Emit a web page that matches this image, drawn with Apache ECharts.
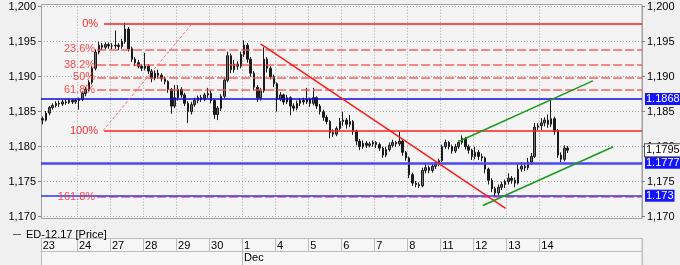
<!DOCTYPE html>
<html>
<head>
<meta charset="utf-8">
<script src="https://cdn.jsdelivr.net/npm/echarts@6/dist/echarts.min.js"></script>
<style>
html,body{margin:0;padding:0;background:#f0f0f0;}
#chart{width:680px;height:265px;}
</style>
</head>
<body>
<div id="chart"></div>
<script>
// ---------- DATA ----------
const seriesName = 'ED-12.17 [Price]';
const dayLabels = ['23','24','27','28','29','30','1','4','5','6','7','8','11','12','13','14'];
const monthLabel = { day: '1', text: 'Dec' };
const padSlots = 22; // empty future slots to the right of the last candle

// candles per day: [open, close, low, high]
const d23 = [[1.1840,1.1838,1.1832,1.1843],[1.1838,1.1848,1.1836,1.1851],[1.1848,1.1856,1.1845,1.1858],[1.1856,1.1859,1.1853,1.1862],[1.1859,1.1862,1.1856,1.1865],[1.1862,1.1861,1.1857,1.1866],[1.1861,1.1864,1.1858,1.1867],[1.1864,1.1863,1.1860,1.1868],[1.1863,1.1866,1.1861,1.1869],[1.1866,1.1864,1.1861,1.1868],[1.1864,1.1866,1.1861,1.1869]];
const d24 = [[1.1866,1.1868,1.1853,1.1870],[1.1868,1.1876,1.1865,1.1879],[1.1876,1.1882,1.1872,1.1885],[1.1882,1.1892,1.1879,1.1895],[1.1892,1.1912,1.1889,1.1915],[1.1912,1.1935,1.1909,1.1939],[1.1935,1.1945,1.1932,1.1950],[1.1945,1.1942,1.1938,1.1948],[1.1942,1.1946,1.1939,1.1949],[1.1946,1.1944,1.1940,1.1949]];
const d27 = [[1.1944,1.1944,1.1939,1.1948],[1.1944,1.1945,1.1940,1.1966],[1.1945,1.1943,1.1938,1.1948],[1.1943,1.1950,1.1940,1.1954],[1.1950,1.1968,1.1947,1.1977],[1.1968,1.1940,1.1936,1.1971],[1.1940,1.1925,1.1921,1.1943],[1.1925,1.1920,1.1915,1.1928],[1.1920,1.1915,1.1912,1.1924],[1.1915,1.1912,1.1908,1.1918]];
const d28 = [[1.1912,1.1915,1.1909,1.1934],[1.1915,1.1908,1.1904,1.1918],[1.1908,1.1898,1.1892,1.1911],[1.1898,1.1905,1.1895,1.1909],[1.1905,1.1902,1.1897,1.1910],[1.1902,1.1897,1.1893,1.1905],[1.1897,1.1893,1.1889,1.1900],[1.1893,1.1882,1.1877,1.1895],[1.1882,1.1858,1.1847,1.1884],[1.1858,1.1870,1.1855,1.1888]];
const d29 = [[1.1870,1.1882,1.1866,1.1888],[1.1882,1.1874,1.1870,1.1885],[1.1874,1.1862,1.1858,1.1877],[1.1862,1.1850,1.1834,1.1865],[1.1850,1.1860,1.1846,1.1864],[1.1860,1.1866,1.1857,1.1870],[1.1866,1.1870,1.1862,1.1873],[1.1870,1.1868,1.1864,1.1874],[1.1868,1.1874,1.1865,1.1877],[1.1874,1.1876,1.1870,1.1884]];
const d30 = [[1.1876,1.1866,1.1862,1.1880],[1.1866,1.1846,1.1840,1.1868],[1.1846,1.1855,1.1838,1.1858],[1.1855,1.1872,1.1851,1.1875],[1.1872,1.1895,1.1869,1.1898],[1.1895,1.1930,1.1892,1.1936],[1.1930,1.1910,1.1905,1.1933],[1.1910,1.1918,1.1906,1.1924],[1.1918,1.1915,1.1910,1.1922],[1.1915,1.1932,1.1912,1.1936]];
const d01 = [[1.1932,1.1945,1.1928,1.1952],[1.1945,1.1925,1.1920,1.1948],[1.1925,1.1905,1.1900,1.1928],[1.1905,1.1885,1.1880,1.1908],[1.1885,1.1870,1.1864,1.1888],[1.1870,1.1880,1.1866,1.1884],[1.1880,1.1925,1.1877,1.1942],[1.1925,1.1912,1.1906,1.1928],[1.1912,1.1900,1.1896,1.1915],[1.1900,1.1890,1.1885,1.1903]];
const d04 = [[1.1890,1.1868,1.1850,1.1892],[1.1868,1.1874,1.1865,1.1878],[1.1874,1.1864,1.1860,1.1876],[1.1864,1.1870,1.1861,1.1874],[1.1870,1.1858,1.1845,1.1872],[1.1858,1.1855,1.1851,1.1862],[1.1855,1.1862,1.1852,1.1866],[1.1862,1.1866,1.1858,1.1869],[1.1866,1.1864,1.1860,1.1870],[1.1864,1.1868,1.1861,1.1884]];
const d05 = [[1.1868,1.1862,1.1857,1.1870],[1.1862,1.1870,1.1859,1.1884],[1.1870,1.1858,1.1854,1.1872],[1.1858,1.1850,1.1846,1.1861],[1.1850,1.1842,1.1837,1.1853],[1.1842,1.1836,1.1832,1.1845],[1.1836,1.1820,1.1812,1.1838],[1.1820,1.1818,1.1814,1.1825],[1.1818,1.1826,1.1815,1.1829],[1.1826,1.1836,1.1823,1.1841]];
const d06 = [[1.1836,1.1838,1.1830,1.1850],[1.1838,1.1832,1.1826,1.1841],[1.1832,1.1836,1.1828,1.1845],[1.1836,1.1822,1.1817,1.1838],[1.1822,1.1808,1.1802,1.1824],[1.1808,1.1800,1.1795,1.1811],[1.1800,1.1805,1.1797,1.1809],[1.1805,1.1802,1.1798,1.1808],[1.1802,1.1804,1.1799,1.1807],[1.1804,1.1806,1.1800,1.1809]];
const d07 = [[1.1806,1.1803,1.1798,1.1808],[1.1803,1.1798,1.1794,1.1806],[1.1798,1.1788,1.1784,1.1800],[1.1788,1.1796,1.1785,1.1800],[1.1796,1.1802,1.1793,1.1806],[1.1802,1.1806,1.1799,1.1810],[1.1806,1.1804,1.1800,1.1808],[1.1804,1.1808,1.1801,1.1821],[1.1808,1.1792,1.1787,1.1810],[1.1792,1.1784,1.1780,1.1794]];
const d08 = [[1.1784,1.1760,1.1755,1.1786],[1.1760,1.1748,1.1744,1.1763],[1.1748,1.1746,1.1742,1.1751],[1.1746,1.1744,1.1741,1.1749],[1.1744,1.1766,1.1742,1.1770],[1.1766,1.1770,1.1762,1.1776],[1.1770,1.1766,1.1762,1.1773],[1.1766,1.1772,1.1763,1.1775],[1.1772,1.1776,1.1768,1.1779],[1.1776,1.1780,1.1772,1.1783]];
const d11 = [[1.1780,1.1800,1.1778,1.1803],[1.1800,1.1806,1.1797,1.1810],[1.1806,1.1800,1.1796,1.1808],[1.1800,1.1794,1.1790,1.1803],[1.1794,1.1800,1.1791,1.1804],[1.1800,1.1806,1.1797,1.1809],[1.1806,1.1812,1.1803,1.1816],[1.1812,1.1800,1.1796,1.1814],[1.1800,1.1795,1.1790,1.1803],[1.1795,1.1786,1.1781,1.1797]];
const d12 = [[1.1786,1.1792,1.1782,1.1800],[1.1792,1.1786,1.1781,1.1795],[1.1786,1.1784,1.1779,1.1790],[1.1784,1.1768,1.1762,1.1786],[1.1768,1.1752,1.1746,1.1770],[1.1752,1.1740,1.1735,1.1755],[1.1740,1.1734,1.1728,1.1743],[1.1734,1.1742,1.1731,1.1746],[1.1742,1.1746,1.1738,1.1750],[1.1746,1.1750,1.1741,1.1753]];
const d13 = [[1.1750,1.1755,1.1746,1.1762],[1.1755,1.1752,1.1747,1.1758],[1.1752,1.1748,1.1742,1.1756],[1.1748,1.1768,1.1746,1.1776],[1.1768,1.1772,1.1764,1.1778],[1.1772,1.1770,1.1765,1.1776],[1.1770,1.1778,1.1767,1.1784],[1.1778,1.1786,1.1774,1.1791],[1.1786,1.1828,1.1784,1.1834],[1.1828,1.1830,1.1824,1.1834]];
const d14 = [[1.1830,1.1834,1.1824,1.1841],[1.1834,1.1838,1.1829,1.1842],[1.1838,1.1832,1.1827,1.1846],[1.1832,1.1840,1.1828,1.1869],[1.1840,1.1822,1.1817,1.1843],[1.1822,1.1788,1.1784,1.1825],[1.1788,1.1782,1.1778,1.1792],[1.1782,1.1798,1.1779,1.1802],[1.1798,1.1795,1.1791,1.1801]];
const ohlcByDay = [d23,d24,d27,d28,d29,d30,d01,d04,d05,d06,d07,d08,d11,d12,d13,d14];

// Fibonacci retracement levels
const fibNames  = ['0%','23.6%','38.2%','50%','61.8%','100%','161.8%'];
const fibValues = [1.1975,1.1939,1.1917,1.1899,1.1881,1.1823,1.1728];
const fibSolid  = ['0%','100%'];
const fibStartSlot = { solid: 19.1, dashed: 17.0 };   // time position (slot units) where each level begins
const fibAnchor = [[18.8,1.1823],[45.6,1.1975]];      // fib tool diagonal (slot, price)

// horizontal support/resistance levels with price tags
const hLevels = [1.1868, 1.1777, 1.173];
const lastPrice = 1.1795;

// trend lines (slot, price)
const downTrend  = [[66.5,1.1947],[140.7,1.1712]];
const chanUpper  = [[126.3,1.1807],[167.1,1.1894]];
const chanLower  = [[133.8,1.1716],[173.3,1.1800]];

const yMin = 1.170, yMax = 1.200, yStep = 0.005;

// ---------- BUILD ----------
const cats = [], catLabel = [], candles = [], dayStart = new Set();
let monthStart = 0;
ohlcByDay.forEach((day, d) => {
  dayStart.add(cats.length);
  if (dayLabels[d] === monthLabel.day) monthStart = cats.length;
  day.forEach((c, j) => { catLabel.push(j === 0 ? dayLabels[d] : ''); cats.push('c' + cats.length); candles.push(c); });
});
for (let k = 0; k < padSlots; k++) { cats.push('c' + cats.length); catLabel.push(''); }
const nSlots = cats.length;

const FONT = 'Liberation Sans';
const fmtY = v => v.toFixed(3).replace('.', ',');

const fibMarks = fibNames.map((n, i) => {
  const solid = fibSolid.includes(n);
  return [
    { coord: [solid ? fibStartSlot.solid : fibStartSlot.dashed, fibValues[i]],
      lineStyle: solid ? { color: '#ff1e1e', width: 1.6, type: 'solid' } : { color: '#ff4646', width: 1.5, type: [9, 3], opacity: 0.85 },
      label: { show: true, position: 'start', formatter: n, distance: solid ? 6 : 2,
               color: '#ff2a2a', fontSize: 11, fontFamily: FONT } },
    { coord: [nSlots, fibValues[i]] }
  ];
});

const hStyles = [
  { color: '#0a0ae6', width: 1.5 },
  { color: '#4646ff', width: 2.5 },
  { color: '#3434ff', width: 1.6 }
];
const tagLabel = (text, bg, fg, border) => ({
  show: true, position: 'end', formatter: text, distance: 3,
  backgroundColor: bg, color: fg, borderColor: border || bg, borderWidth: border ? 1 : 0,
  padding: [1, 1, 0, 1], fontSize: 11, fontFamily: FONT, opacity: 1
});
const hMarks = hLevels.map((v, i) => [
  { coord: [0, v], lineStyle: Object.assign({ type: 'solid' }, hStyles[i]), label: tagLabel(String(v), '#1414ff', '#ffffff') },
  { coord: [nSlots, v] }
]);
hMarks.push([
  { coord: [0, lastPrice], lineStyle: { color: 'rgba(0,0,0,0)', width: 1 },
    label: tagLabel(String(lastPrice).replace('.', ','), '#ffffff', '#000000', '#505050') },
  { coord: [nSlots, lastPrice] }
]);

const lineSeries = (data, color, width, type) => ({
  type: 'line', xAxisIndex: 2, yAxisIndex: 0, data, symbol: 'none', silent: true, z: 5,
  lineStyle: { color, width, type: type || 'solid' }
});

const chart = echarts.init(document.getElementById('chart'), null, { renderer: 'canvas' });
chart.setOption({
  animation: false,
  backgroundColor: '#f0f0f0',
  textStyle: { fontFamily: FONT },
  grid: { left: 41, right: 38, top: 6.7, bottom: 48.3, containLabel: false },
  graphic: { elements: [
    { type: 'rect', z: -10, shape: { x: 41.5, y: 4.5, width: 600.5, height: 214 },
      style: { fill: '#f4f4f4', stroke: '#a0a0a0', lineWidth: 1 } },
    { type: 'rect', z: -10, shape: { x: 41.5, y: 238.5, width: 600.5, height: 30 },
      style: { fill: '#f6f6f6', stroke: '#c4c4c4', lineWidth: 1 } }
  ]},
  legend: {
    left: 8, top: 224, icon: 'rect', itemWidth: 8, itemHeight: 1, itemGap: 5,
    selectedMode: false,
    data: [{ name: seriesName, itemStyle: { color: '#606060', borderWidth: 0 } }],
    textStyle: { fontSize: 11, color: '#000', fontFamily: FONT }
  },
  xAxis: [
    { type: 'category', data: cats, boundaryGap: true, position: 'bottom', offset: 21.3,
      axisLine: { show: true, lineStyle: { color: '#bcbcbc', width: 1 } },
      axisTick: { show: true, interval: i => dayStart.has(i), length: 13.4, lineStyle: { color: '#bcbcbc' } },
      axisLabel: { interval: i => dayStart.has(i), formatter: (v, i) => catLabel[i], align: 'left',
                   margin: 2, fontSize: 11, color: '#000', fontFamily: FONT },
      splitLine: { show: true, interval: i => dayStart.has(i), lineStyle: { color: '#a8a8a8', type: [1, 2] } } },
    { type: 'category', data: cats, boundaryGap: true, position: 'bottom', offset: 35,
      axisLine: { show: true, lineStyle: { color: '#bcbcbc', width: 1 } },
      axisTick: { show: true, interval: i => i === 0 || i === monthStart, length: 14, lineStyle: { color: '#bcbcbc' } },
      axisLabel: { interval: i => i === monthStart, formatter: () => monthLabel.text, align: 'left',
                   margin: 1, fontSize: 11, color: '#000', fontFamily: FONT },
      splitLine: { show: false } },
    { type: 'value', min: 0, max: nSlots, show: false }
  ],
  yAxis: [
    { type: 'value', position: 'left', min: yMin, max: yMax, interval: yStep, scale: true,
      axisLine: { show: true, lineStyle: { color: '#a0a0a0' } },
      axisTick: { show: true, length: 3, lineStyle: { color: '#808080' } },
      axisLabel: { formatter: fmtY, margin: 5, fontSize: 11, color: '#000', fontFamily: FONT },
      splitLine: { show: true, lineStyle: { color: '#a8a8a8', type: [1, 2] } } },
    { type: 'value', position: 'right', min: yMin, max: yMax, interval: yStep, scale: true,
      axisLine: { show: true, lineStyle: { color: '#a0a0a0' } },
      axisTick: { show: true, length: 3, lineStyle: { color: '#808080' } },
      axisLabel: { formatter: fmtY, margin: 5, fontSize: 11, color: '#000', fontFamily: FONT },
      splitLine: { show: false } }
  ],
  series: [
    { name: seriesName, type: 'candlestick', xAxisIndex: 0, yAxisIndex: 0, data: candles, barWidth: 2, z: 3,
      itemStyle: { color: '#6e6e6e', color0: '#1a1a1a', borderColor: '#1a1a1a', borderColor0: '#1a1a1a', borderWidth: 1 } },
    { type: 'line', xAxisIndex: 2, yAxisIndex: 0, data: [], silent: true, z: 4,
      markLine: { symbol: 'none', silent: true, animation: false, precision: 6, data: fibMarks } },
    lineSeries(fibAnchor, '#ff6a6a', 1, [3, 2]),
    lineSeries(downTrend, '#ff1a1a', 1.5),
    lineSeries(chanUpper, '#1c9a1c', 1.5),
    lineSeries(chanLower, '#1c9a1c', 1.5),
    { type: 'line', xAxisIndex: 2, yAxisIndex: 0, data: [], silent: true, z: 6,
      markLine: { symbol: 'none', silent: true, animation: false, precision: 6, data: hMarks } }
  ]
});
</script>
</body>
</html>
